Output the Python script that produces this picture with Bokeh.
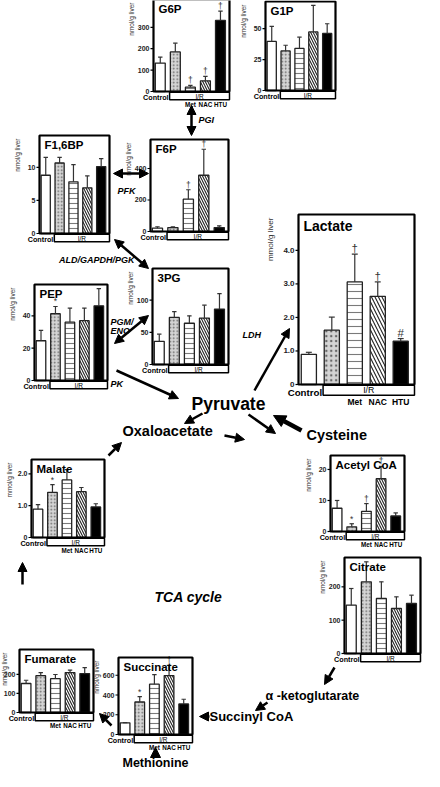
import math
from bokeh.plotting import figure
from bokeh.models import Range1d, Arrow, NormalHead
from bokeh.embed import file_html
from bokeh.resources import INLINE
from bokeh.core.properties import value

FONT = value("Liberation Sans")

# ---------------- data ----------------
groups = ["Control", "I/R", "Met", "NAC", "HTU"]

g6p_vals = [133, 185, 20, 50, 332]
g6p_errs = [161, 226, 29, 71, 376]
g6p_marks = ["", "", "†", "†", "†"]

g1p_vals = [39.7, 32, 34, 47.4, 46.2]
g1p_errs = [51.9, 36.6, 43.1, 68.9, 54]
g1p_marks = ["", "", "", "", ""]

f16bp_vals = [8.8, 10.65, 7.8, 6.9, 10.1]
f16bp_errs = [11.5, 11.5, 10.4, 8.7, 11.3]
f16bp_marks = ["", "", "", "", ""]

f6p_vals = [21, 25, 205, 357, 25]
f6p_errs = [30, 30, 265, 522, 36]
f6p_marks = ["", "", "†", "†", ""]

lact_vals = [0.9, 1.62, 3.06, 2.63, 1.29]
lact_errs = [0.96, 2.01, 3.89, 3.06, 1.37]
lact_marks = ["", "", "†", "†", "#"]

pep_vals = [24.6, 41.3, 36.1, 37, 46.2]
pep_errs = [31, 45.8, 44.8, 44.8, 56.8]
pep_marks = ["", "*", "", "", ""]

pg3_vals = [36, 73, 64, 72, 86]
pg3_errs = [47, 82, 75.5, 92, 110]
pg3_marks = ["", "", "", "", ""]

mal_vals = [0.89, 1.42, 1.81, 1.44, 0.96]
mal_errs = [1.03, 1.66, 2.13, 1.57, 1.06]
mal_marks = ["", "*", "", "", ""]

acoa_vals = [7.5, 1.5, 6.5, 17, 5]
acoa_errs = [10, 2.5, 9, 21, 6]
acoa_marks = ["", "*", "†", "†", ""]

cit_vals = [145, 215, 165, 135, 150]
cit_errs = [195, 275, 215, 170, 175]
cit_marks = ["", "", "", "", ""]

fum_vals = [152, 193, 177, 209, 204]
fum_errs = [169, 209, 199, 222, 235]
fum_marks = ["", "", "", "", ""]

suc_vals = [118, 329, 510, 597, 310]
suc_errs = [121, 384, 606, 700, 357]
suc_marks = ["", "*", "", "†", ""]

W, H = 424, 771
p = figure(width=W, height=H, x_range=Range1d(8, 8 + W), y_range=Range1d(8 + H, 8),
           output_backend="svg", toolbar_location=None, min_border=0,
           x_axis_location=None, y_axis_location=None)
p.grid.visible = False
p.outline_line_color = None
p.background_fill_color = "white"

FILLS = ["white", "#d4d4d4", "white", "white", "black"]
HATCH = [" ", ".", "-", "\\", " "]
HCOL = ["black", "#666666", "#7a7a7a", "#222222", "black"]

XS0, XS1 = -0.45, 4.6


def panel(title, xl, xr, ytop, ybot, ymax, ticks, ticklabels, vals, errs, marks,
          ylab="nmol/g liver", met_labels=True, big=False, ylab_off=19):
    sub = p.subplot(x_source=Range1d(XS0, XS1), y_source=Range1d(0, ymax),
                    x_target=Range1d(xl, xr), y_target=Range1d(ybot, ytop))
    dxp = (XS1 - XS0) / (xr - xl)      # data units per pixel (x)
    dyp = ymax / (ybot - ytop)          # data units per pixel (y)
    idx = list(range(len(vals)))
    k = 1.35 if big else 1.0
    hs = 7 if big else 5
    # bars
    sub.vbar(x=idx, top=vals, bottom=0, width=0.66, fill_color=FILLS,
             hatch_pattern=HATCH, hatch_color=HCOL,
             hatch_scale=[hs, hs * 0.7, hs, hs, hs], hatch_weight=[1.1, 0.9, 1.1, 1.1, 1.1],
             line_color="#222222", line_width=1.3)
    # error bars
    sub.segment(x0=idx, x1=idx, y0=vals, y1=errs, line_color="#333333", line_width=1.2)
    cap = 2.2 * dxp * k
    sub.segment(x0=[i - cap for i in idx], x1=[i + cap for i in idx], y0=errs, y1=errs,
                line_color="#333333", line_width=1.2)
    sub.text(x=idx, y=errs, text=marks, text_align="center", text_baseline="bottom",
             text_font=FONT, text_font_size=f"{8.5 * k:.1f}px", text_color="#333333")
    # frame
    sub.quad(left=[XS0], right=[XS1], bottom=[0], top=[ymax], fill_color=None,
             line_color="black", line_width=2.2)
    # ticks
    tl = 3 * dxp
    sub.segment(x0=[XS0 - tl] * len(ticks), x1=[XS0] * len(ticks), y0=ticks, y1=ticks,
                line_color="black", line_width=1.2)
    sub.text(x=[XS0] * len(ticks), y=ticks, text=ticklabels, x_offset=-4,
             text_align="right", text_baseline="middle", text_font=FONT,
             text_font_style="bold", text_font_size=f"{7 * (1.15 if big else 1):.1f}px",
             text_color="#222222")
    # title
    sub.text(x=[XS0], y=[ymax], text=[title], x_offset=5, y_offset=3,
             text_align="left", text_baseline="top", text_font=FONT,
             text_font_style="bold", text_font_size="14px" if big else "11.5px")
    # y label
    sub.text(x=[XS0], y=[ymax], text=[ylab], x_offset=-ylab_off * (1.25 if big else 1), y_offset=3,
             angle=math.pi / 2, text_align="right", text_baseline="bottom",
             text_font=FONT, text_font_size=f"{6.5 * (1.25 if big else 1):.1f}px",
             text_color="#333333")
    # group annotation: I/R box, Control label, Met/NAC/HTU
    bh = (7.5 if not big else 10) * dyp
    b0 = 0.62
    sub.quad(left=[b0], right=[XS1], top=[-0.8 * dyp], bottom=[-0.8 * dyp - bh],
             fill_color="white", line_color="black", line_width=1.5)
    sub.text(x=[(b0 + XS1) / 2], y=[-0.8 * dyp - bh / 2], text=[groups[1]],
             text_align="center", text_baseline="middle", text_font=FONT,
             text_font_size=f"{6.5 * k:.1f}px")
    sub.text(x=[b0], y=[0], text=[groups[0]], x_offset=-1, y_offset=1.5 * k,
             text_align="right", text_baseline="top", text_font=FONT,
             text_font_style="bold", text_font_size=f"{7.2 * k:.1f}px")
    if met_labels:
        sub.text(x=idx[2:], y=[-0.8 * dyp - bh] * 3, text=groups[2:], y_offset=1.5 * k,
                 text_align="center", text_baseline="top", text_font=FONT,
                 text_font_style="bold", text_font_size=f"{6.3 * k:.1f}px")


panel("G6P", 161, 237, 7, 99, 430, [0, 100, 200, 300], ["0", "100", "200", "300"],
      g6p_vals, g6p_errs, g6p_marks)
panel("G1P", 273, 343, 9, 98, 72, [0, 25, 50], ["0", "25", "50"],
      g1p_vals, g1p_errs, g1p_marks, met_labels=False)
panel("F1,6BP", 47, 117, 143, 241, 14.8, [0, 5, 10], ["0", "5", "10"],
      f16bp_vals, f16bp_errs, f16bp_marks, met_labels=False)
panel("F6P", 158, 236, 147, 239, 584, [0, 200, 400], ["0", "200", "400"],
      f6p_vals, f6p_errs, f6p_marks, met_labels=False)
panel("Lactate", 306, 422, 222, 392, 5.07, [0, 1, 2, 3, 4], ["0", "1.0", "2.0", "3.0", "4.0"],
      lact_vals, lact_errs, lact_marks, ylab="mmol/g liver", big=True)
panel("PEP", 42, 115, 292, 388, 59.4, [0, 20, 40], ["0", "20", "40"],
      pep_vals, pep_errs, pep_marks, met_labels=False)
panel("3PG", 160, 236, 276, 372, 149, [0, 50, 100], ["0", "50", "100"],
      pg3_vals, pg3_errs, pg3_marks, met_labels=False)
panel("Malate", 39, 112, 467, 545, 2.45, [0, 1, 2], ["0", "1.0", "2.0"],
      mal_vals, mal_errs, mal_marks, ylab="mmol/g liver")
panel("Acetyl CoA", 338, 412, 463, 539, 24.5, [0, 10, 20], ["0", "10", "20"],
      acoa_vals, acoa_errs, acoa_marks)
panel("Citrate", 352, 428, 565, 661, 288, [0, 100, 200], ["0", "100", "200"],
      cit_vals, cit_errs, cit_marks, met_labels=False)
panel("Fumarate", 27, 101, 657, 720, 330, [0, 100, 200], ["0", "100", "200"],
      fum_vals, fum_errs, fum_marks, ylab_off=12)
panel("Succinate", 126, 200, 665, 742, 780, [0, 200, 400, 600], ["0", "200", "400", "600"],
      suc_vals, suc_errs, suc_marks)

# ---------------- pathway labels ----------------
def lab(x, y, t, size=11, style="bold", align="left"):
    p.text(x=[x], y=[y], text=[t], text_font=FONT, text_font_style=style,
           text_font_size=f"{size}px", text_align=align, text_baseline="middle")

lab(206, 127, "PGI", 9, "bold italic")
lab(125, 198, "PFK", 9, "bold italic")
lab(142, 267, "ALD/GAPDH/PGK", 9, "bold italic", "right")
lab(118, 329, "PGM/", 9, "bold italic")
lab(118, 338, "ENO", 9, "bold italic")
lab(118, 391, "PK", 9, "bold italic")
lab(250, 342, "LDH", 9, "bold italic")
lab(199, 411, "Pyruvate", 17.5)
lab(314, 442, "Cysteine", 14.5)
lab(130, 438, "Oxaloacetate", 14.5)
lab(162, 604, "TCA cycle", 14, "bold italic")
lab(273, 703, "α -ketoglutarate", 12.5)
lab(217, 724, "Succinyl CoA", 13)
lab(130, 770, "Methionine", 12.5)

def arr(x0, y0, x1, y1, both=False, lw=2.5, size=9):
    p.add_layout(Arrow(x_start=x0, y_start=y0, x_end=x1, y_end=y1,
                       line_width=lw, line_color="black",
                       end=NormalHead(size=size, fill_color="black", line_color="black"),
                       start=NormalHead(size=size, fill_color="black", line_color="black") if both else None))

arr(199, 113, 199, 143, both=True)
arr(121, 181, 156, 181, both=True)
arr(122, 247, 156, 276, both=True)
arr(122, 351, 156, 323, both=True)
arr(124, 378, 186, 406)
arr(262, 398, 297, 336)
arr(309, 438, 281, 423, lw=4.5, size=12)
arr(210, 421, 192, 431)
arr(256, 422, 283, 441)
arr(116, 463, 129, 450)
arr(232, 443, 252, 447)
arr(30, 592, 30, 570)
arr(119, 733, 107, 721)
arr(217, 724, 207, 724)
arr(163, 763, 163, 755, lw=4, size=10)
arr(342, 675, 332, 692)
arr(275, 710, 263, 718)

open("out.html", "w").write(file_html(p, INLINE))
